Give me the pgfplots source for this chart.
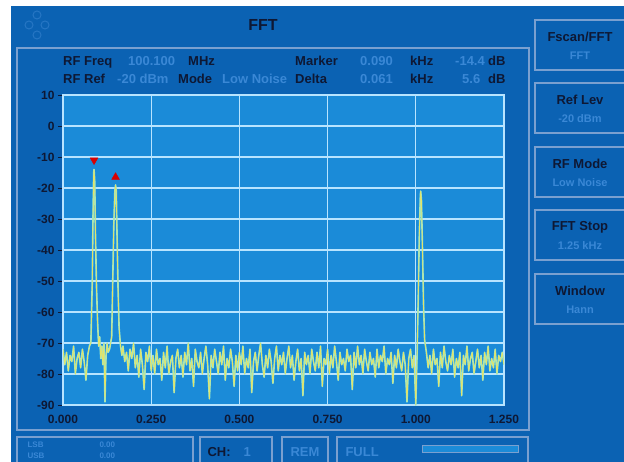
\documentclass[border=0pt]{standalone}
\usepackage{fontspec}
\setmainfont{Liberation Sans}
\usepackage{pgfplots}
\pgfplotsset{compat=1.18}
\definecolor{bgblue}{HTML}{0B62B3}
\definecolor{plotbg}{HTML}{1B8BD8}
\definecolor{gridc}{HTML}{B8E4FF}
\definecolor{txt}{HTML}{0E1834}
\definecolor{faint}{HTML}{3A88D6}
\definecolor{logo}{HTML}{2676C4}
\definecolor{frame}{HTML}{7AA0D0}
\definecolor{trY}{HTML}{E2E46A}
\definecolor{trC}{HTML}{8FE6D8}
\newcommand{\fs}[1]{\fontsize{#1}{#1}\selectfont}
\begin{document}
\begin{tikzpicture}
\begin{scope}[x=1pt,y=-1pt]
\useasboundingbox (0,0) rectangle (624,462);
\fill[white] (0,0) rectangle (624,462);
\fill[bgblue] (11,6) rectangle (624,462);
% faint logo
\foreach \a/\b in {37/15,29/25,45/25,37/35}{\draw[logo,line width=1pt] (\a,\b) circle (4);}
% title
\node[txt,font=\bfseries\fs{16}] at (263,25) {FFT};
% panel frame
\draw[frame,line width=1.5pt] (17,48) rectangle (529,430);
% header rows
\begin{scope}[every node/.style={anchor=base west,inner sep=0pt,font=\bfseries\fs{13}}]
\node[txt] at (63,66) {RF Freq};
\node[faint] at (128,66) {100.100};
\node[txt] at (188,66) {MHz};
\node[txt] at (295,66) {Marker};
\node[faint] at (360,66) {0.090};
\node[txt] at (410,66) {kHz};
\node[faint] at (455,66) {-14.4};
\node[txt] at (488,66) {dB};
\node[txt] at (63,84) {RF Ref};
\node[faint] at (117,84) {-20 dBm};
\node[txt] at (178,84) {Mode};
\node[faint] at (222,84) {Low Noise};
\node[txt] at (295,84) {Delta};
\node[faint] at (360,84) {0.061};
\node[txt] at (410,84) {kHz};
\node[faint] at (462,84) {5.6};
\node[txt] at (488,84) {dB};
\end{scope}
% buttons
\foreach \t/\l/\v in {20/Fscan\slash FFT/FFT,83/Ref Lev/-20 dBm,147/RF Mode/Low Noise,210/FFT Stop/1.25 kHz,274/Window/Hann}{
  \draw[frame,line width=1.5pt] (535,\t) rectangle (630,\t+50);
  \node[txt,font=\bfseries\fs{13}] at (580,\t+17) {\l};
  \node[faint,font=\bfseries\fs{11}] at (580,\t+36) {\v};
}
% bottom bar
\draw[frame,line width=1.2pt] (17,437) rectangle (193,466);
\node[faint,font=\bfseries\fs{8},anchor=west] at (24,445) {LSB};
\node[faint,font=\bfseries\fs{8},anchor=west] at (24,456) {USB};
\node[faint,font=\bfseries\fs{8},anchor=west] at (96,445) {0.00};
\node[faint,font=\bfseries\fs{8},anchor=west] at (96,456) {0.00};
\draw[frame,line width=1.2pt] (200,437) rectangle (272,466);
\node[txt,font=\bfseries\fs{13},anchor=west] at (204,452) {CH:};
\node[faint,font=\bfseries\fs{13},anchor=west] at (240,452) {1};
\draw[frame,line width=1.2pt] (282,437) rectangle (328,466);
\node[faint,font=\bfseries\fs{13}] at (305,452) {REM};
\draw[frame,line width=1.2pt] (337,437) rectangle (528,466);
\node[faint,font=\bfseries\fs{13},anchor=west] at (342,452) {FULL};
\draw[frame,line width=1pt,fill=plotbg] (422,445) rectangle (518,452);
\end{scope}
\begin{axis}[
  at={(63pt,-405pt)}, anchor=south west,
  scale only axis, width=441pt, height=310pt,
  xmin=0, xmax=1.25, ymin=-90, ymax=10,
  xtick={0,0.25,0.5,0.75,1,1.25},
  xticklabels={0.000,0.250,0.500,0.750,1.000,1.250},
  ytick={-90,-80,-70,-60,-50,-40,-30,-20,-10,0,10},
  ytick pos=left, xtick pos=bottom,
  minor x tick num=4,
  grid=major,
  grid style={gridc,line width=1.3pt},
  axis line style={gridc,line width=1.3pt},
  axis background/.style={fill=plotbg},
  tick align=outside,
  major tick length=5pt, minor tick length=3pt,
  tick style={txt,line width=0.8pt},
  xtick style={draw=none},
  minor x tick style={txt,line width=0.8pt},
  ticklabel style={txt,font=\bfseries\fs{12}},
  /pgf/number format/assume math mode=true,
  xticklabel style={yshift=-2pt},
]
\pgfplotsset{trace/.style={line width=#1, line join=round, mark=none}}
\pgfplotstableread{
x y
0.000 -72
0.005 -77
0.010 -73
0.015 -79
0.020 -74
0.025 -76
0.030 -71
0.035 -80
0.040 -75
0.045 -73
0.050 -78
0.055 -72
0.060 -76
0.065 -82
0.070 -74
0.075 -71
0.079 -70
0.083 -50
0.085 -30
0.087 -15
0.088 -14
0.090 -18
0.092 -35
0.095 -52
0.098 -63
0.101 -71
0.104 -68
0.107 -75
0.110 -71
0.113 -77
0.116 -70
0.119 -89
0.122 -74
0.125 -70
0.128 -73
0.132 -72
0.138 -68
0.141 -50
0.144 -32
0.147 -21
0.149 -19
0.151 -21
0.153 -34
0.156 -52
0.159 -65
0.163 -71
0.167 -74
0.170 -71
0.175 -76
0.180 -73
0.185 -79
0.190 -72
0.195 -75
0.200 -70
0.205 -78
0.210 -74
0.215 -81
0.220 -72
0.225 -77
0.230 -85
0.235 -73
0.240 -76
0.245 -71
0.250 -79
0.255 -74
0.260 -80
0.265 -72
0.270 -77
0.275 -75
0.280 -82
0.285 -73
0.290 -78
0.295 -71
0.300 -80
0.305 -76
0.310 -74
0.315 -86
0.320 -75
0.325 -72
0.330 -78
0.335 -74
0.340 -81
0.345 -73
0.350 -77
0.355 -70
0.360 -79
0.365 -75
0.370 -84
0.375 -72
0.380 -76
0.385 -78
0.390 -73
0.395 -80
0.400 -75
0.405 -71
0.410 -77
0.415 -88
0.420 -74
0.425 -78
0.430 -72
0.435 -76
0.440 -80
0.445 -73
0.450 -77
0.455 -71
0.460 -82
0.465 -75
0.470 -78
0.475 -72
0.480 -76
0.485 -84
0.490 -74
0.495 -79
0.500 -73
0.505 -77
0.510 -71
0.515 -80
0.520 -75
0.525 -78
0.530 -72
0.535 -86
0.540 -76
0.545 -73
0.550 -79
0.555 -74
0.560 -70
0.565 -77
0.570 -81
0.575 -74
0.580 -78
0.585 -72
0.590 -76
0.595 -83
0.600 -75
0.605 -71
0.610 -79
0.615 -74
0.620 -77
0.625 -73
0.630 -80
0.635 -75
0.640 -71
0.645 -78
0.650 -74
0.655 -82
0.660 -76
0.665 -72
0.670 -79
0.675 -75
0.680 -87
0.685 -73
0.690 -77
0.695 -74
0.700 -80
0.705 -72
0.710 -76
0.715 -79
0.720 -73
0.725 -78
0.730 -71
0.735 -84
0.740 -75
0.745 -77
0.750 -72
0.755 -80
0.760 -74
0.765 -78
0.770 -71
0.775 -76
0.780 -82
0.785 -73
0.790 -77
0.795 -75
0.800 -79
0.805 -72
0.810 -76
0.815 -74
0.820 -85
0.825 -73
0.830 -78
0.835 -71
0.840 -77
0.845 -74
0.850 -80
0.855 -72
0.860 -76
0.865 -79
0.870 -73
0.875 -77
0.880 -75
0.885 -81
0.890 -72
0.895 -78
0.900 -74
0.905 -76
0.910 -71
0.915 -80
0.920 -75
0.925 -77
0.930 -73
0.935 -83
0.940 -74
0.945 -78
0.950 -72
0.955 -76
0.960 -79
0.965 -73
0.970 -77
0.975 -89
0.980 -75
0.985 -72
0.990 -78
0.995 -74
1.000 -90
1.004 -72
1.007 -55
1.010 -35
1.013 -22
1.014 -21
1.016 -24
1.019 -40
1.022 -58
1.025 -69
1.030 -73
1.035 -78
1.040 -74
1.045 -80
1.050 -72
1.055 -77
1.060 -75
1.065 -84
1.070 -73
1.075 -78
1.080 -71
1.085 -76
1.090 -79
1.095 -74
1.100 -77
1.105 -72
1.110 -81
1.115 -75
1.120 -78
1.125 -73
1.130 -87
1.135 -74
1.140 -77
1.145 -71
1.150 -79
1.155 -75
1.160 -73
1.165 -80
1.170 -76
1.175 -72
1.180 -78
1.185 -74
1.190 -82
1.195 -73
1.200 -77
1.205 -71
1.210 -79
1.215 -75
1.220 -78
1.225 -72
1.230 -80
1.235 -74
1.240 -76
1.245 -73
1.250 -77
}\trace
\addplot[trC, trace=1.6pt] table[x=x,y=y] {\trace};
\addplot[trY, trace=0.8pt] table[x=x,y=y] {\trace};
\addplot[only marks, mark=triangle*, mark size=4.5pt, color=red!85!black, mark options={rotate=180}] coordinates {(0.088,-11)};
\addplot[only marks, mark=triangle*, mark size=4.5pt, color=red!85!black] coordinates {(0.149,-16.5)};
\end{axis}
\end{tikzpicture}
\end{document}
